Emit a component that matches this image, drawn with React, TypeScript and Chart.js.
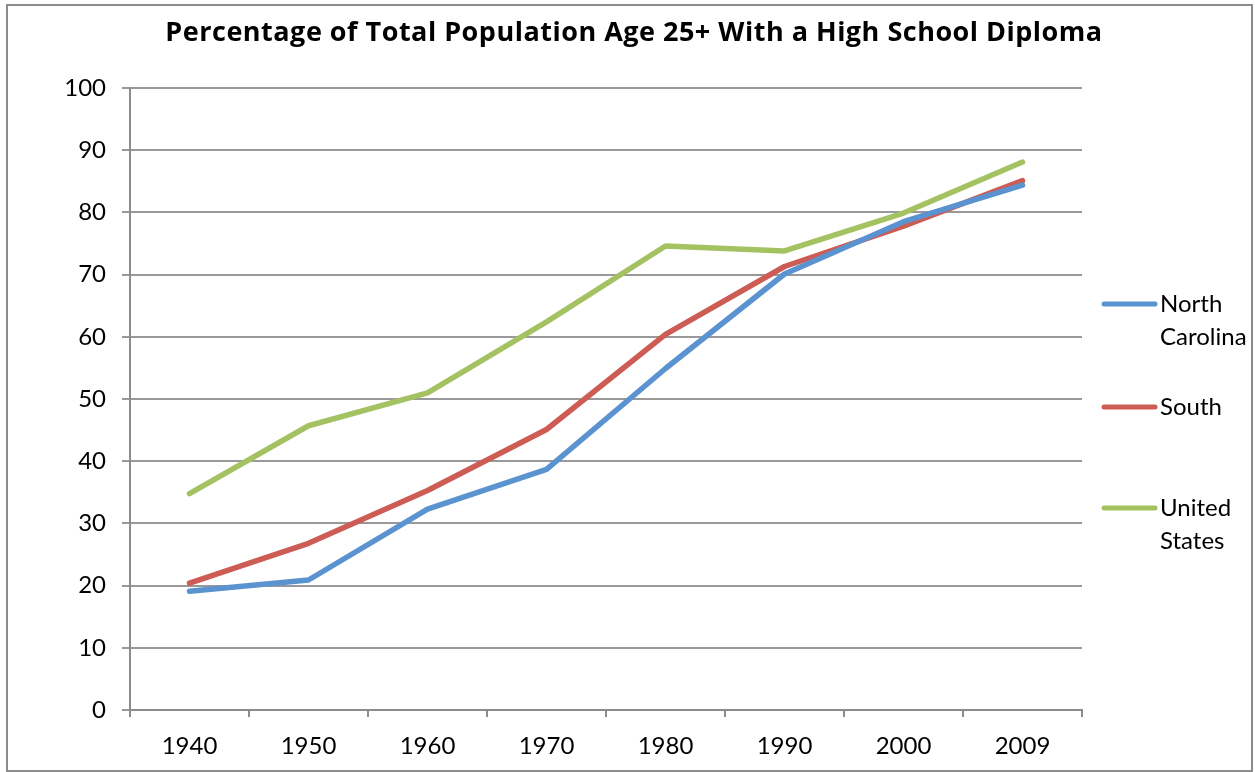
import React, { useEffect, useRef } from "react";
import { Chart, registerables } from "chart.js";

Chart.register(...registerables);

const years = ["1940", "1950", "1960", "1970", "1980", "1990", "2000", "2009"];
const northCarolina = [19.1, 20.9, 32.3, 38.7, 54.9, 70.1, 78.5, 84.4];
const south = [20.4, 26.8, 35.3, 45.1, 60.4, 71.3, 77.8, 85.1];
const unitedStates = [34.8, 45.7, 51.0, 62.4, 74.6, 73.8, 79.9, 88.1];
const seriesNames = ["North Carolina", "South", "United States"];
const legendLines = [["North", "Carolina"], ["South"], ["United", "States"]];
const colors = ["#5A93CF", "#CD5C55", "#A5C262"];
const titleText = "Percentage of Total Population Age 25+ With a High School Diploma";

const FONT = "Lato, 'Open Sans', sans-serif";
const TITLE_FONT = "'Open Sans', Lato, sans-serif";

export default function App() {
  const ref = useRef<HTMLCanvasElement>(null);
  useEffect(() => {
    const canvas = ref.current!;
    const decor = {
      id: "decor",
      beforeDraw(chart: any) {
        const c = chart.ctx;
        c.save();
        c.fillStyle = "#fff";
        c.fillRect(0, 0, chart.width, chart.height);
        c.strokeStyle = "#8c8c8c";
        c.lineWidth = 2;
        c.strokeRect(7, 5, 1245, 766);
        c.restore();
      },
      afterDraw(chart: any) {
        const c = chart.ctx;
        c.save();
        c.fillStyle = "#000";
        c.font = `bold 27px ${TITLE_FONT}`;
        (c as any).letterSpacing = "0.5px";
        c.textAlign = "center";
        c.textBaseline = "middle";
        c.fillText(titleText, 634, 33);
        (c as any).letterSpacing = "0px";
        c.font = `24px ${FONT}`;
        c.textAlign = "left";
        const tops = [304, 407, 508];
        legendLines.forEach((lines, i) => {
          const y0 = tops[i];
          c.strokeStyle = colors[i];
          c.lineWidth = 5;
          c.lineCap = "round";
          c.beginPath();
          c.moveTo(1104, y0);
          c.lineTo(1155, y0);
          c.stroke();
          lines.forEach((t, j) => {
            c.fillText(t, 1160, y0 + j * 33);
          });
        });
        c.restore();
      },
    };
    const chart = new Chart(canvas, {
      type: "line",
      data: {
        labels: years,
        datasets: [northCarolina, south, unitedStates].map((d, i) => ({
          label: seriesNames[i],
          data: d,
          borderColor: colors[i],
          backgroundColor: colors[i],
          borderWidth: 5.5,
          pointRadius: 0,
          tension: 0,
          borderCapStyle: "round" as const,
          borderJoinStyle: "round" as const,
        })),
      },
      options: {
        responsive: false,
        animation: false,
        layout: { padding: { left: 0, top: 88, right: 173, bottom: 0 } },
        plugins: {
          legend: { display: false },
          title: { display: false },
          tooltip: { enabled: false },
        },
        scales: {
          x: {
            offset: true,
            grid: {
              display: true,
              drawOnChartArea: false,
              drawTicks: true,
              tickLength: 7,
              color: "#8c8c8c",
              lineWidth: 2,
              offset: true,
            },
            border: { display: true, color: "#8c8c8c", width: 2 },
            ticks: {
              color: "#000",
              font: { family: FONT, size: 24 },
              padding: 15,
              maxRotation: 0,
            },
            afterFit(scale: any) {
              scale.height = 62;
            },
          },
          y: {
            min: 0,
            max: 100,
            grid: {
              color: "#999",
              lineWidth: 2,
              tickLength: 8,
              drawTicks: true,
            },
            border: { display: true, color: "#8c8c8c", width: 2 },
            ticks: {
              stepSize: 10,
              color: "#000",
              font: { family: FONT, size: 24 },
              padding: 16,
            },
            afterFit(scale: any) {
              scale.width = 130;
            },
          },
        },
      },
      plugins: [decor],
    } as any);
    return () => chart.destroy();
  }, []);
  return (
    <div style={{ position: "absolute", left: 0, top: 0, width: 1255, height: 772 }}>
      <canvas ref={ref} width={1255} height={772} style={{ display: "block" }} />
    </div>
  );
}
